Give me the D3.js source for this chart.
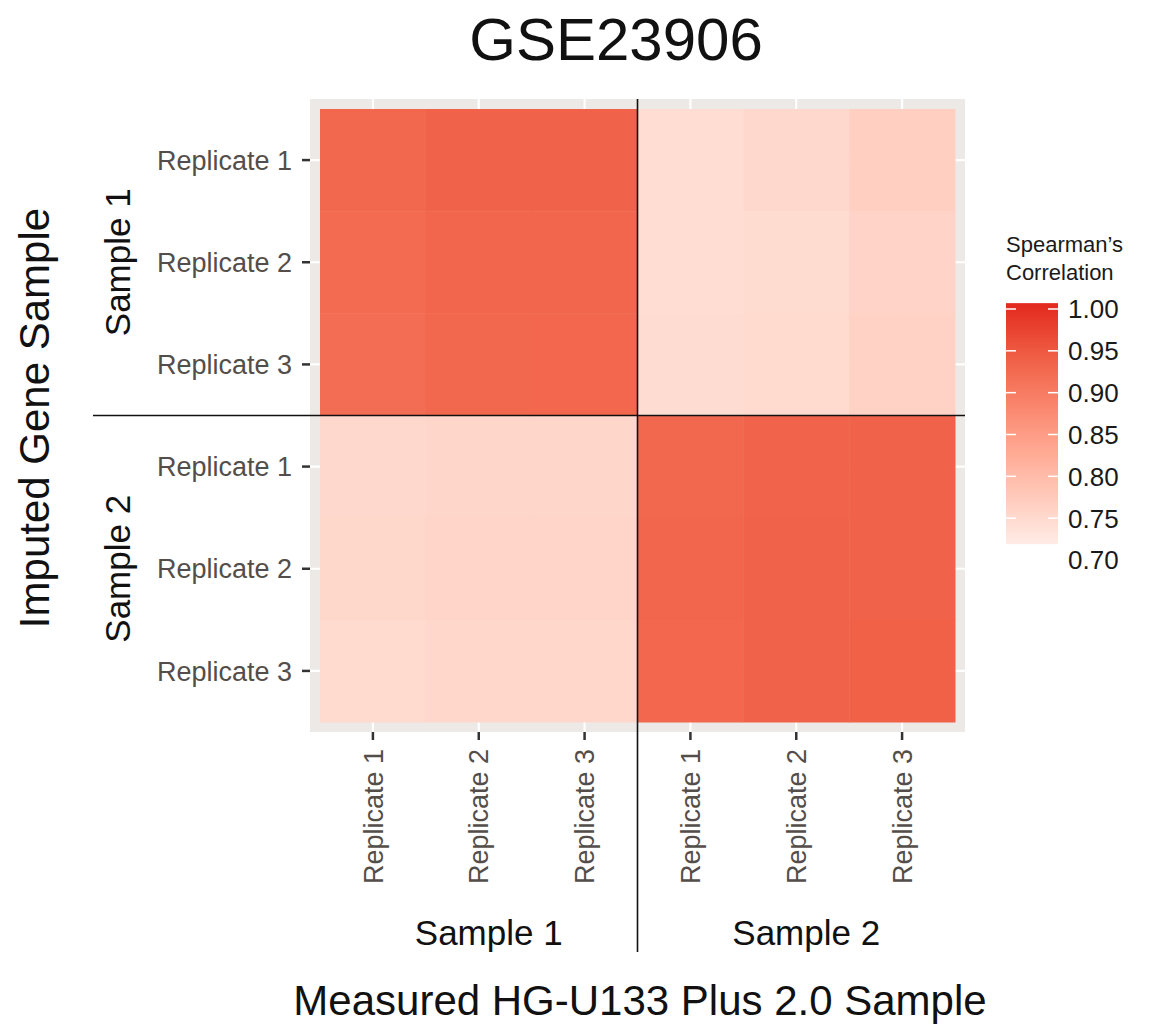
<!DOCTYPE html>
<html>
<head>
<meta charset="utf-8">
<script src="https://cdn.jsdelivr.net/npm/d3@7"></script>
<style>
  body { margin: 0; background: #fff; }
  text { font-family: "Liberation Sans", Arial, Helvetica, sans-serif; }
</style>
</head>
<body>
<div id="chart"></div>
<script>
// sample groups and replicates (same for both axes)
var samples = ["Sample 1", "Sample 2"];
var replicates = ["Replicate 1", "Replicate 2", "Replicate 3"];

// Spearman's correlation, one array per imputed row (top to bottom),
// columns = measured S1R1, S1R2, S1R3, S2R1, S2R2, S2R3
var imputedS1R1 = [0.928, 0.936, 0.936, 0.745, 0.752, 0.766];
var imputedS1R2 = [0.923, 0.931, 0.932, 0.744, 0.748, 0.760];
var imputedS1R3 = [0.921, 0.929, 0.930, 0.746, 0.750, 0.762];
var imputedS2R1 = [0.752, 0.756, 0.756, 0.929, 0.934, 0.936];
var imputedS2R2 = [0.753, 0.757, 0.757, 0.931, 0.936, 0.937];
var imputedS2R3 = [0.750, 0.754, 0.754, 0.930, 0.936, 0.938];

var legendTicks = [0.70, 0.75, 0.80, 0.85, 0.90, 0.95, 1.00];
var legendBarRange = [0.719, 1.007];

var rows = [imputedS1R1, imputedS1R2, imputedS1R3, imputedS2R1, imputedS2R2, imputedS2R3];
var keys = [];
samples.forEach(function (s) {
  replicates.forEach(function (r) { keys.push(s + "|" + r); });
});

var cells = [];
rows.forEach(function (row, i) {
  row.forEach(function (v, j) {
    cells.push({ row: keys[i], col: keys[j], value: v });
  });
});

var width = 1154, height = 1028;
var svg = d3.select("#chart").append("svg")
  .attr("width", width)
  .attr("height", height);

var x = d3.scaleBand().domain(keys).range([320, 955]);
var y = d3.scaleBand().domain(keys).range([109, 722]);

var color = d3.scaleLinear()
  .domain([0.70, 1.00])
  .range(["#fff8f5", "#e3291f"])
  .interpolate(d3.interpolateLab)
  .clamp(true);

// panel background
var panel = { left: 310, right: 965, top: 99, bottom: 732 };
svg.append("rect")
  .attr("x", panel.left).attr("y", panel.top)
  .attr("width", panel.right - panel.left)
  .attr("height", panel.bottom - panel.top)
  .attr("fill", "#ece9e7");

// grid lines
svg.append("g").selectAll("line.vg")
  .data(keys).enter().append("line")
  .attr("x1", function (d) { return x(d) + x.bandwidth() / 2; })
  .attr("x2", function (d) { return x(d) + x.bandwidth() / 2; })
  .attr("y1", panel.top).attr("y2", panel.bottom)
  .attr("stroke", "#fff").attr("stroke-width", 2.2);
svg.append("g").selectAll("line.hg")
  .data(keys).enter().append("line")
  .attr("y1", function (d) { return y(d) + y.bandwidth() / 2; })
  .attr("y2", function (d) { return y(d) + y.bandwidth() / 2; })
  .attr("x1", panel.left).attr("x2", panel.right)
  .attr("stroke", "#fff").attr("stroke-width", 2.2);

// tiles
svg.append("g").selectAll("rect")
  .data(cells).enter().append("rect")
  .attr("x", function (d) { return x(d.col); })
  .attr("y", function (d) { return y(d.row); })
  .attr("width", x.bandwidth() + 0.5)
  .attr("height", y.bandwidth() + 0.5)
  .attr("fill", function (d) { return color(d.value); });

// axes
var tickLabel = function (d) { return d.split("|")[1]; };
var yAxis = svg.append("g")
  .attr("transform", "translate(" + panel.left + ",0)")
  .call(d3.axisLeft(y).tickSize(8).tickPadding(10).tickFormat(tickLabel));
var xAxis = svg.append("g")
  .attr("transform", "translate(0," + panel.bottom + ")")
  .call(d3.axisBottom(x).tickSize(8).tickPadding(10).tickFormat(tickLabel));

[xAxis, yAxis].forEach(function (a) {
  a.select(".domain").remove();
  a.selectAll(".tick line").attr("stroke", "#333").attr("stroke-width", 2.5);
  a.selectAll(".tick text")
    .attr("fill", "#544e4a")
    .style("font-size", "27px");
});
yAxis.selectAll(".tick text").attr("dy", "0.36em");
xAxis.selectAll(".tick text")
  .attr("transform", "rotate(-90)")
  .attr("text-anchor", "end")
  .attr("x", -17)
  .attr("y", 0)
  .attr("dy", "0.36em");

// group dividers
var midX = x(keys[3]);
var midY = y(keys[3]);
svg.append("line")
  .attr("x1", midX).attr("x2", midX)
  .attr("y1", panel.top).attr("y2", 952)
  .attr("stroke", "#111").attr("stroke-width", 1.6);
svg.append("line")
  .attr("x1", 93).attr("x2", panel.right)
  .attr("y1", midY).attr("y2", midY)
  .attr("stroke", "#111").attr("stroke-width", 1.6);

// sample group labels
samples.forEach(function (s, i) {
  var k0 = keys[i * 3], k2 = keys[i * 3 + 2];
  var cx = (x(k0) + x(k2) + x.bandwidth()) / 2;
  var cy = (y(k0) + y(k2) + y.bandwidth()) / 2;
  svg.append("text")
    .attr("x", cx + 10).attr("y", 945)
    .attr("text-anchor", "middle")
    .style("font-size", "35px")
    .attr("fill", "#111")
    .text(s);
  svg.append("text")
    .attr("transform", "translate(130," + cy + ") rotate(-90)")
    .attr("text-anchor", "middle")
    .style("font-size", "35px")
    .attr("fill", "#111")
    .text(s);
});

// titles
svg.append("text")
  .attr("x", 616).attr("y", 60)
  .attr("text-anchor", "middle")
  .style("font-size", "60px")
  .attr("fill", "#111")
  .text("GSE23906");
svg.append("text")
  .attr("x", 640).attr("y", 1015)
  .attr("text-anchor", "middle")
  .style("font-size", "42px")
  .attr("fill", "#111")
  .text("Measured HG-U133 Plus 2.0 Sample");
svg.append("text")
  .attr("transform", "translate(49,418) rotate(-90)")
  .attr("text-anchor", "middle")
  .style("font-size", "42px")
  .attr("fill", "#111")
  .text("Imputed Gene Sample");

// legend
var ly = d3.scaleLinear().domain([0.70, 1.00]).range([560, 309]);
var bar = { x: 1006, w: 52 };
var defs = svg.append("defs");
var grad = defs.append("linearGradient")
  .attr("id", "corrGrad")
  .attr("x1", 0).attr("y1", 1).attr("x2", 0).attr("y2", 0);
d3.range(0, 1.0001, 0.1).forEach(function (t) {
  var v = legendBarRange[0] + t * (legendBarRange[1] - legendBarRange[0]);
  grad.append("stop").attr("offset", t).attr("stop-color", color(v));
});
svg.append("rect")
  .attr("x", bar.x).attr("y", ly(legendBarRange[1]))
  .attr("width", bar.w)
  .attr("height", ly(legendBarRange[0]) - ly(legendBarRange[1]))
  .attr("fill", "url(#corrGrad)");

var inBar = legendTicks.filter(function (t) {
  return t >= legendBarRange[0] && t <= legendBarRange[1];
});
svg.append("g").selectAll("line")
  .data(inBar).enter().append("line")
  .attr("x1", bar.x).attr("x2", bar.x + 10)
  .attr("y1", ly).attr("y2", ly)
  .attr("stroke", "#fff").attr("stroke-width", 1.5);
svg.append("g").selectAll("line")
  .data(inBar).enter().append("line")
  .attr("x1", bar.x + bar.w - 10).attr("x2", bar.x + bar.w)
  .attr("y1", ly).attr("y2", ly)
  .attr("stroke", "#fff").attr("stroke-width", 1.5);

svg.append("g").selectAll("text")
  .data(legendTicks).enter().append("text")
  .attr("x", 1068)
  .attr("y", ly)
  .attr("dy", "0.36em")
  .style("font-size", "26px")
  .attr("fill", "#1a1a1a")
  .text(function (d) { return d3.format(".2f")(d); });

svg.append("text")
  .attr("x", 1006).attr("y", 252)
  .style("font-size", "22px")
  .attr("fill", "#1a1a1a")
  .text("Spearman\u2019s");
svg.append("text")
  .attr("x", 1006).attr("y", 280)
  .style("font-size", "22px")
  .attr("fill", "#1a1a1a")
  .text("Correlation");
</script>
</body>
</html>
